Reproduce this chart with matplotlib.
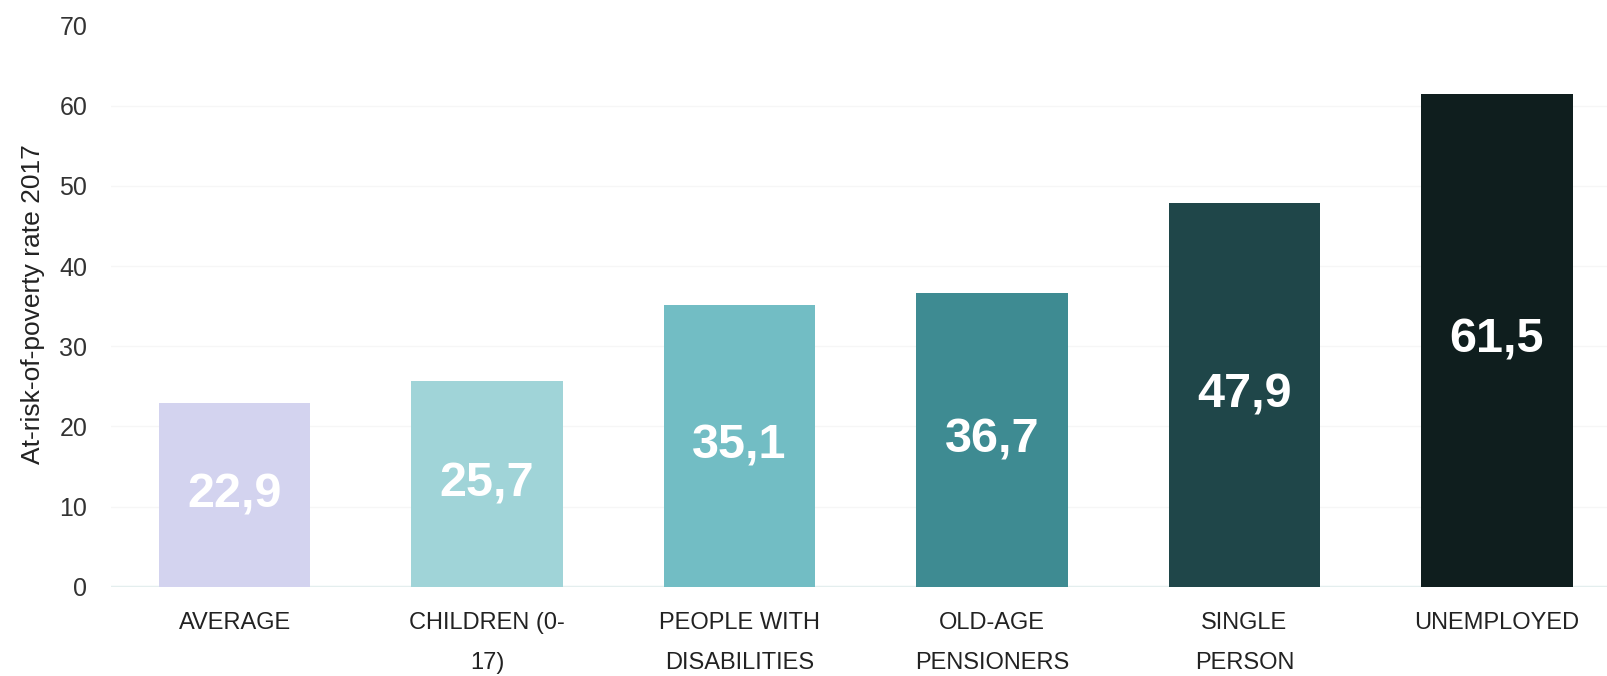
import matplotlib
matplotlib.use("Agg")
import matplotlib.pyplot as plt

# data
categories = ["AVERAGE", "CHILDREN (0-\n17)", "PEOPLE WITH\nDISABILITIES",
              "OLD-AGE\nPENSIONERS", "SINGLE\nPERSON", "UNEMPLOYED"]
rates = [22.9, 25.7, 35.1, 36.7, 47.9, 61.5]
value_labels = ["22,9", "25,7", "35,1", "36,7", "47,9", "61,5"]
bar_colors = ["#d3d3ef", "#a0d4d8", "#72bdc4", "#3e8b92", "#1f4649", "#0f1e1e"]

plt.rcParams["font.family"] = ["Liberation Sans", "DejaVu Sans"]

fig = plt.figure(figsize=(16.08, 6.76), dpi=100)
ax = fig.add_axes([0.069, 0.132, 0.931, 0.830])

x = list(range(len(categories)))
ax.bar(x, rates, width=0.6, color=bar_colors, zorder=2)

for xi, v, lab in zip(x, rates, value_labels):
    ax.text(xi, v / 2, lab, ha="center", va="center", color="white",
            fontsize=35, fontweight="bold", zorder=3)

ax.set_ylim(0, 70)
ax.set_xlim(-0.49, 5.44)
ax.set_yticks(range(0, 71, 10))
ax.set_xticks(x)
ax.set_xticklabels(categories, fontsize=17, color="#222222", linespacing=2.1)
ax.tick_params(axis="x", length=0, pad=18)
ax.tick_params(axis="y", length=0, pad=17, labelsize=18, labelcolor="#333333")

# faint horizontal grid, light baseline
for yv in range(10, 70, 10):
    ax.axhline(yv, color="#f6f6f6", linewidth=1, zorder=1)
ax.axhline(0, color="#e4eeee", linewidth=2.5, zorder=1)

for s in ax.spines.values():
    s.set_visible(False)

fig.text(0.0205, 0.55, "At-risk-of-poverty rate 2017", rotation=90,
         ha="center", va="center", fontsize=19, color="#222222")

fig.savefig("out.png", dpi=100, facecolor="white")
